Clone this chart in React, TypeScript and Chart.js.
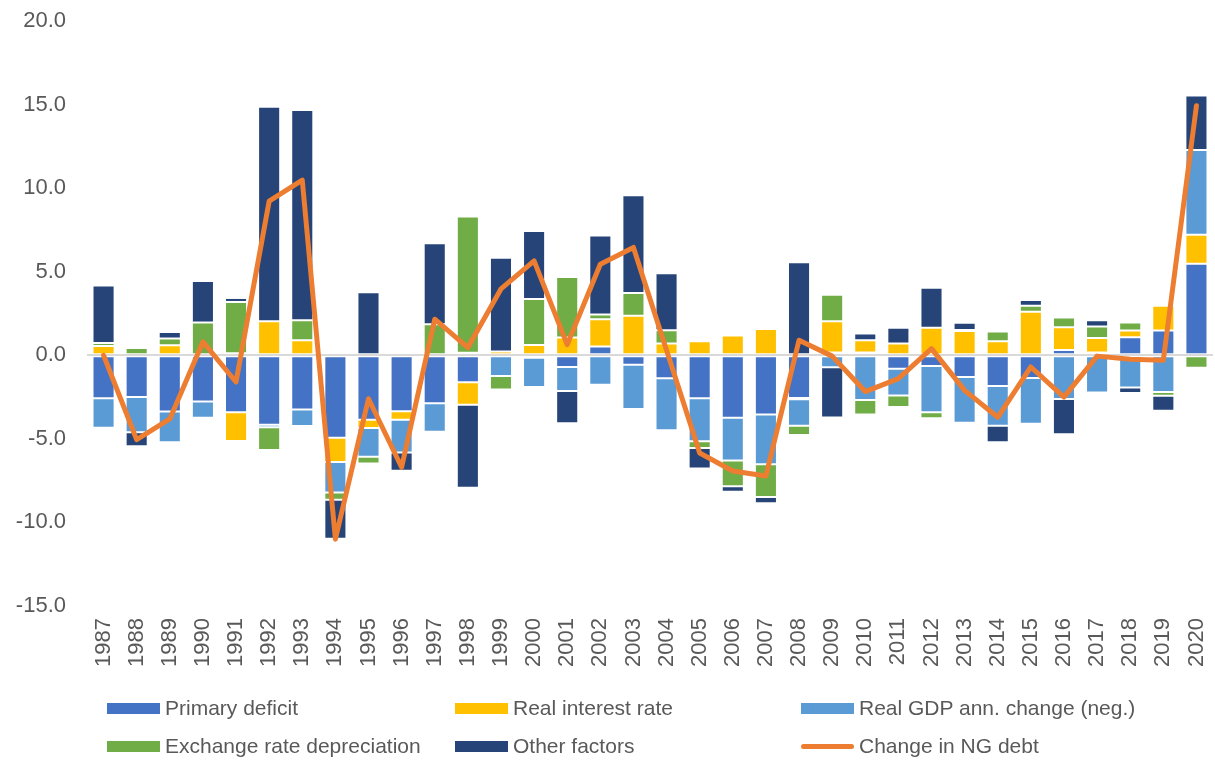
import React, { useEffect, useRef } from "react";
import { Chart, registerables } from "chart.js";
Chart.register(...registerables);

const years = [
  "1987", "1988", "1989", "1990", "1991", "1992", "1993", "1994", "1995", "1996",
  "1997", "1998", "1999", "2000", "2001", "2002", "2003", "2004", "2005", "2006",
  "2007", "2008", "2009", "2010", "2011", "2012", "2013", "2014", "2015", "2016",
  "2017", "2018", "2019", "2020",
];

const primaryDeficit = [
  -2.57, -2.5, -3.37, -2.77, -3.41, -4.15, -3.25, -4.93, -3.85, -3.35,
  -2.87, -1.62, 0.0, -0.14, -0.7, 0.52, -0.56, -1.38, -2.57, -3.73,
  -3.55, -2.55, 0.16, 0.16, -0.8, -0.64, -1.3, -1.84, -1.36, 0.32,
  0.16, 1.08, 1.48, 5.47,
];

const realInterestRate = [
  0.56, 0.0, 0.6, 0.0, -1.72, 2.04, 0.9, -1.46, -0.5, -0.5,
  0.0, -1.34, 0.22, 0.62, 1.06, 1.64, 2.36, 0.7, 0.84, 1.18,
  1.58, -0.08, 1.88, 0.74, 0.7, 1.64, 1.46, 0.84, 2.61, 1.36,
  0.88, 0.4, 1.48, 1.74,
];

const realGdpChange = [
  -1.76, -2.1, -1.84, -0.96, 0.12, -0.16, -0.98, -1.82, -1.72, -1.96,
  -1.7, 0.15, -1.24, -1.76, -1.44, -1.76, -2.65, -3.11, -2.57, -2.57,
  -2.97, -1.58, -0.72, -2.67, -1.6, -2.77, -2.73, -2.37, -2.73, -2.61,
  -2.22, -1.92, -2.2, 5.07,
];

const exchangeRateDepreciation = [
  0.18, 0.44, 0.4, 1.96, 3.07, -1.36, 1.2, -0.44, -0.4, 0.18,
  1.85, 8.16, -0.8, 2.75, 3.63, 0.28, 1.36, 0.8, -0.4, -1.54,
  -1.96, -0.56, 1.58, -0.88, -0.7, -0.36, 0.05, 0.58, 0.36, 0.58,
  0.68, 0.48, -0.22, -0.74,
];

const otherFactors = [
  3.43, -0.84, 0.4, 2.49, 0.24, 12.83, 12.57, -2.33, 3.77, -1.1,
  4.85, -4.97, 5.61, 4.07, -1.92, 4.73, 5.85, 3.41, -1.24, -0.32,
  -0.38, 5.57, -3.0, 0.4, 0.94, 2.4, 0.44, -1.0, 0.34, -2.12,
  0.38, -0.34, -0.9, 3.27,
];

const changeInNgDebt = [
  0.0, -5.05, -3.81, 0.8, -1.6, 9.22, 10.48, -11.0, -2.6, -6.7,
  2.16, 0.46, 3.97, 5.65, 0.64, 5.45, 6.45, 0.3, -5.85, -6.92,
  -7.22, 0.9, -0.05, -2.17, -1.4, 0.4, -2.1, -3.71, -0.7, -2.5,
  -0.05, -0.24, -0.3, 14.93,
];

const barSeries = [
  { label: "Primary deficit", data: primaryDeficit, color: "#4472C4" },
  { label: "Real interest rate", data: realInterestRate, color: "#FFC000" },
  { label: "Real GDP ann. change (neg.)", data: realGdpChange, color: "#5B9BD5" },
  { label: "Exchange rate depreciation", data: exchangeRateDepreciation, color: "#70AD47" },
  { label: "Other factors", data: otherFactors, color: "#264478" },
];
const lineSeries = { label: "Change in NG debt", data: changeInNgDebt, color: "#ED7D31" };

const FONT = "'Liberation Sans', Arial, sans-serif";
const TEXT = "#595959";

export default function App() {
  const ref = useRef<HTMLCanvasElement>(null);

  useEffect(() => {
    if (!ref.current) return;
    const chart = new Chart(ref.current, {
      type: "bar",
      data: {
        labels: years,
        datasets: [
          {
            type: "line",
            label: lineSeries.label,
            data: lineSeries.data,
            borderColor: lineSeries.color,
            backgroundColor: lineSeries.color,
            borderWidth: 5,
            pointRadius: 0,
            tension: 0,
            borderCapStyle: "round",
            borderJoinStyle: "round",
            stack: "debt",
            order: 0,
          } as any,
          ...barSeries.map((s) => ({
            type: "bar" as const,
            label: s.label,
            data: s.data,
            backgroundColor: s.color,
            borderColor: "rgba(255,255,255,0.45)",
            borderWidth: 1,
            borderSkipped: false,
            stack: "bars",
            order: 1,
            barPercentage: 0.667,
            categoryPercentage: 1,
          })),
        ],
      },
      options: {
        responsive: false,
        animation: false,
        layout: { padding: { top: 21, right: 2, left: 0, bottom: 0 } },
        plugins: {
          legend: { display: false },
          tooltip: { enabled: false },
        },
        scales: {
          x: {
            stacked: true,
            grid: { display: false },
            border: { display: false },
            ticks: {
              autoSkip: false,
              minRotation: 90,
              maxRotation: 90,
              padding: 4,
              color: TEXT,
              font: { family: FONT, size: 22 },
            },
            afterFit: (s: any) => {
              s.height = 156;
              s.paddingLeft = 0;
              s.paddingRight = 0;
            },
          },
          y: {
            stacked: true,
            min: -15,
            max: 20,
            z: 1,
            ticks: {
              stepSize: 5,
              padding: 21,
              color: TEXT,
              font: { family: FONT, size: 22 },
              callback: (v: any) => Number(v).toFixed(1),
            },
            grid: {
              color: (ctx: any) => (ctx.tick && ctx.tick.value === 0 ? "#D9D9D9" : "rgba(0,0,0,0)"),
              lineWidth: 2,
              drawTicks: false,
            },
            border: { display: false },
            afterFit: (s: any) => {
              s.width = 87;
              s.paddingTop = 0;
              s.paddingBottom = 0;
            },
          },
        },
      },
    });
    return () => chart.destroy();
  }, []);

  const legendItems = [
    ...barSeries.map((s) => ({ label: s.label, color: s.color, kind: "box" })),
    { label: lineSeries.label, color: lineSeries.color, kind: "line" },
  ];
  const colX = [107, 455, 801];
  const rowY = [708, 746];

  return (
    <div style={{ position: "fixed", left: 0, top: 0, width: 1215, height: 762, background: "#fff" }}>
      <canvas ref={ref} width={1215} height={762} style={{ display: "block" }} />
      {legendItems.map((it, i) => {
        const col = i % 3;
        const row = Math.floor(i / 3);
        return (
          <div
            key={it.label}
            style={{
              position: "absolute",
              left: colX[col],
              top: rowY[row] - 14,
              height: 28,
              display: "flex",
              alignItems: "center",
              fontFamily: FONT,
              fontSize: 21,
              color: TEXT,
              whiteSpace: "nowrap",
            }}
          >
            {it.kind === "box" ? (
              <span style={{ display: "inline-block", width: 53, height: 11, background: it.color, marginRight: 5 }} />
            ) : (
              <span style={{ display: "inline-block", width: 53, height: 5, background: it.color, borderRadius: 3, marginRight: 5 }} />
            )}
            <span>{it.label}</span>
          </div>
        );
      })}
    </div>
  );
}
